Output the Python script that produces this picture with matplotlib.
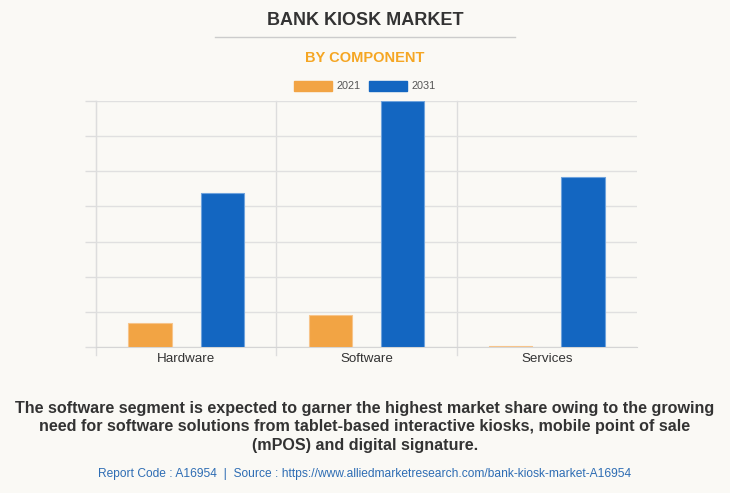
import numpy as np
import matplotlib.pyplot as plt
from matplotlib.lines import Line2D

plt.rcParams['font.family'] = ['Liberation Sans', 'DejaVu Sans']

# 数据
categories = ['Hardware', 'Software', 'Services']
years = ['2021', '2031']
val_2021 = [0.68, 0.91, 0.04]
val_2031 = [4.38, 7.0, 4.84]

bg = '#faf9f5'
c2021 = '#f2a444'
c2031 = '#1366c1'

fig = plt.figure(figsize=(7.3, 4.93), dpi=100, facecolor=bg)
ax = fig.add_axes([0.1315, 0.2961, 0.7411, 0.499])
ax.set_facecolor(bg)

x = np.arange(len(categories))
w = 0.24
ax.bar(x - 0.2, val_2021, w, color=c2021, edgecolor='#f7c48a', linewidth=0.8, zorder=3)
ax.bar(x + 0.2, val_2031, w, color=c2031, edgecolor='#6fa3dd', linewidth=0.8, zorder=3)

ax.set_xlim(-0.5, 2.5)
ax.set_ylim(0, 7)
ax.set_yticks(np.arange(0, 8, 1))
ax.set_yticklabels([])
ax.tick_params(axis='y', length=8, color='#dddddd', width=1)
ax.set_xticks(x)
ax.set_xticklabels(categories, fontsize=9.6, color='#333333')
ax.tick_params(axis='x', length=0, pad=4)
ax.yaxis.grid(True, color='#e0e0e0', linewidth=1, zorder=0)

for s in ['top', 'right']:
    ax.spines[s].set_visible(False)
ax.spines['left'].set_color('#dddddd')
ax.spines['bottom'].set_color('#d5d5d5')

# 分类分隔线
for xs in [-0.5, 0.5, 1.5]:
    ax.plot([xs, xs], [-0.22, 7], color='#dddddd', linewidth=1, clip_on=False, zorder=1)

# 标题
fig.text(0.5, 0.958, 'BANK KIOSK MARKET', ha='center', va='center',
         fontsize=13, fontweight='bold', color='#333333')
fig.add_artist(Line2D([215 / 730, 515 / 730], [1 - 37 / 493] * 2, color='#cccccc', linewidth=1))
fig.text(0.5, 0.882, 'BY COMPONENT', ha='center', va='center',
         fontsize=10.5, fontweight='bold', color='#f5a623')

handles = [plt.Rectangle((0, 0), 1, 1, color=c2021), plt.Rectangle((0, 0), 1, 1, color=c2031)]
fig.legend(handles, years, loc='center', bbox_to_anchor=(0.5, 1 - 86 / 493), ncol=2, frameon=False,
           fontsize=7.8, labelcolor='#555555', handlelength=3.5, handleheight=1.1,
           handletextpad=0.4, columnspacing=0.8)

caption = ('The software segment is expected to garner the highest market share owing to the growing\n'
           'need for software solutions from tablet-based interactive kiosks, mobile point of sale\n'
           '(mPOS) and digital signature.')
fig.text(0.5, 1 - 427 / 493, caption, ha='center', va='center', fontsize=11.6,
         fontweight='bold', color='#333333', linespacing=1.33)
fig.text(0.5, 1 - 474 / 493,
         'Report Code : A16954  |  Source : https://www.alliedmarketresearch.com/bank-kiosk-market-A16954',
         ha='center', va='center', fontsize=8.65, color='#2e6db4')

fig.savefig('out.png', dpi=100, facecolor=bg)
